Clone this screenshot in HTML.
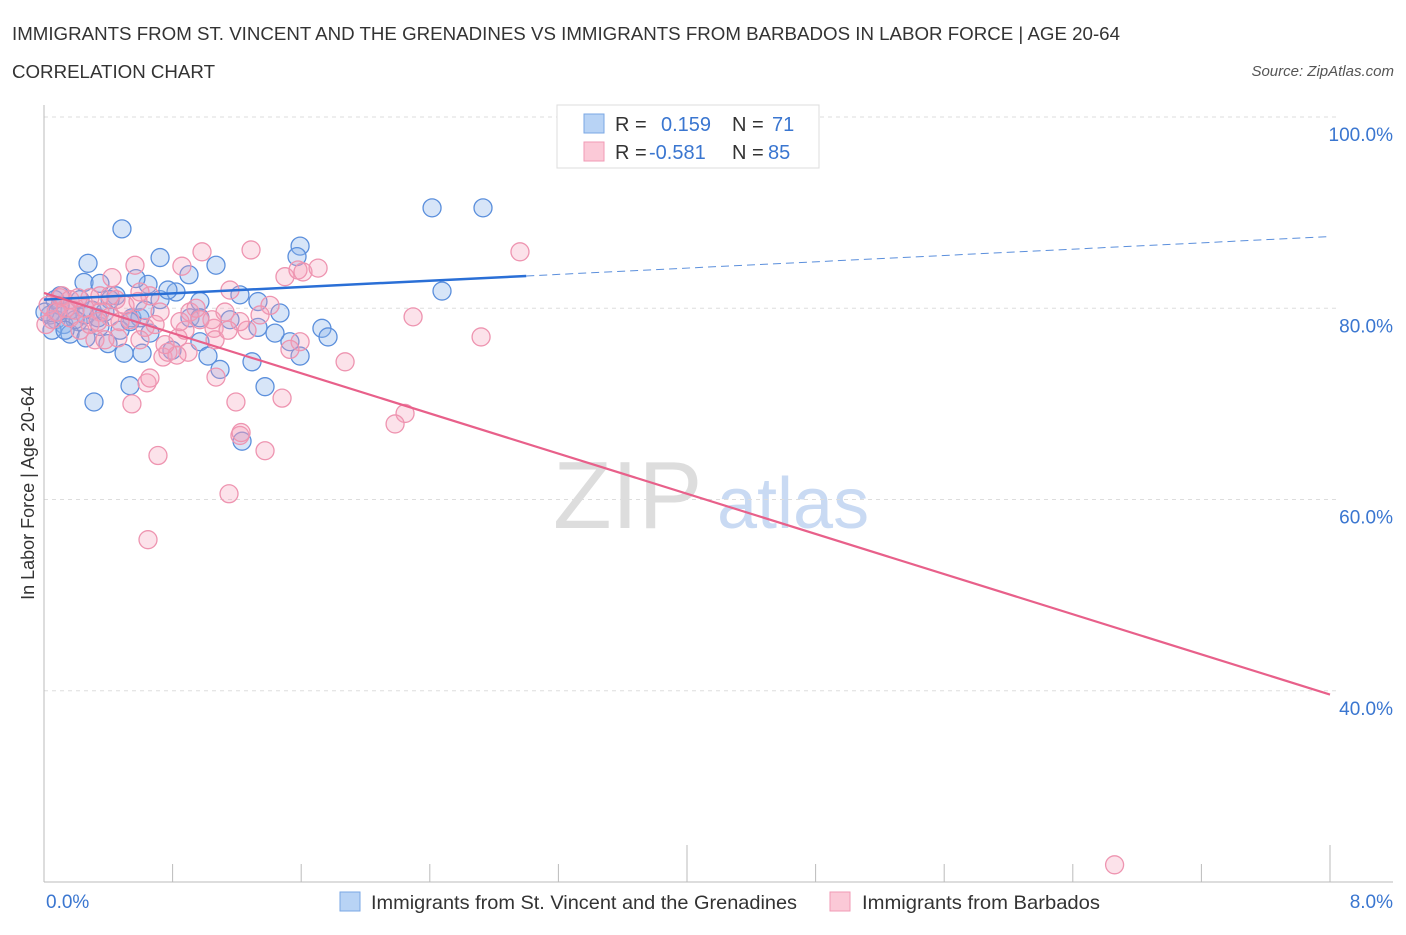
<!DOCTYPE html>
<html><head><meta charset="utf-8"><style>
body{margin:0;background:#fff;font-family:"Liberation Sans",sans-serif;}
svg text{font-family:"Liberation Sans",sans-serif;}
</style></head><body>
<svg id="chart" width="1406" height="930">
<text x="12" y="40" font-size="18.5" fill="#333" textLength="1108" lengthAdjust="spacingAndGlyphs">IMMIGRANTS FROM ST. VINCENT AND THE GRENADINES VS IMMIGRANTS FROM BARBADOS IN LABOR FORCE | AGE 20-64</text>
<text x="12" y="78" font-size="18.5" fill="#333" textLength="203" lengthAdjust="spacingAndGlyphs">CORRELATION CHART</text>
<text x="1394" y="76" font-size="15" fill="#555" font-style="italic" text-anchor="end">Source: ZipAtlas.com</text>
<g>
<text x="553" y="528" font-size="96" fill="#ddd" font-family="Liberation Serif,serif">ZIP</text>
<text x="717" y="528" font-size="72" fill="#c9daf3">atlas</text>
</g>
<g id="grid"></g>
<g id="axes"></g>
<g id="marks"></g>
<text transform="translate(34,493) rotate(-90)" font-size="18" fill="#333" text-anchor="middle">In Labor Force | Age 20-64</text>
<g>
<rect x="557" y="105" width="262" height="63" fill="#fff" stroke="#ddd"/>
<rect x="584" y="114" width="20" height="19" fill="#b8d3f5" stroke="#7aa7e4"/>
<rect x="584" y="142" width="20" height="19" fill="#fbc9d7" stroke="#f09ab4"/>
<text x="615" y="131" font-size="20" fill="#333">R =</text>
<text x="661" y="131" font-size="20" fill="#3a76d0">0.159</text>
<text x="732" y="131" font-size="20" fill="#333">N =</text>
<text x="772" y="131" font-size="20" fill="#3a76d0">71</text>
<text x="615" y="159" font-size="20" fill="#333">R =</text>
<text x="649" y="159" font-size="20" fill="#3a76d0">-0.581</text>
<text x="732" y="159" font-size="20" fill="#333">N =</text>
<text x="768" y="159" font-size="20" fill="#3a76d0">85</text>
</g>
<g>
<rect x="340" y="892" width="20" height="19" fill="#b8d3f5" stroke="#7aa7e4"/>
<text x="371" y="909" font-size="19.5" fill="#333" textLength="426" lengthAdjust="spacingAndGlyphs">Immigrants from St. Vincent and the Grenadines</text>
<rect x="830" y="892" width="20" height="19" fill="#fbc9d7" stroke="#f09ab4"/>
<text x="862" y="909" font-size="19.5" fill="#333" textLength="238" lengthAdjust="spacingAndGlyphs">Immigrants from Barbados</text>
</g>
</svg>
<script>
const blueX=[0.485,2.414,2.731,1.593,1.574,0.722,0.274,1.070,0.647,0.249,0.572,0.902,0.348,0.821,1.219,2.476,0.100,0.448,0.970,1.331,1.468,0.547,0.075,0.124,0.212,0.348,0.659,1.331,1.729,1.767,0.162,0.261,0.398,0.498,0.610,0.796,0.970,1.020,1.530,1.593,1.294,1.095,0.535,1.375,0.311,1.232,0.037,0.050,0.299,0.411,0.597,0.162,0.224,0.473,0.908,0.722,0.771,0.100,0.006,0.255,0.336,0.068,0.193,0.131,0.379,0.535,0.628,0.970,1.157,1.437,0.087];
const blueY=[88.3,90.5,90.5,86.5,85.4,85.3,84.7,84.5,82.5,82.7,83.1,83.5,82.6,81.7,81.4,81.8,81.3,81.3,80.7,80.7,79.5,79.0,78.8,78.3,78.6,78.1,77.4,78.0,77.9,77.0,77.3,76.9,76.3,75.3,75.3,75.6,76.5,75.0,76.5,75.0,74.4,73.6,71.9,71.8,70.2,66.1,79.3,77.7,79.8,80.9,79.0,79.8,80.9,77.7,79.0,80.9,81.9,80.3,79.6,79.3,79.0,80.9,78.8,77.7,79.6,78.6,79.8,79.0,78.8,77.4,79.6];
const pinkX=[2.961,1.288,0.983,2.296,2.719,1.873,2.246,2.184,6.66,0.647,1.151,0.709,1.375,1.219,1.226,1.194,1.481,0.547,0.641,0.659,0.740,0.771,0.896,0.827,1.070,1.593,1.058,1.263,1.219,1.406,1.499,1.580,1.611,1.705,1.157,0.858,0.566,0.423,0.348,0.448,0.659,0.597,0.908,0.946,1.045,0.834,0.317,0.460,0.162,0.100,0.025,0.050,0.224,0.286,0.535,0.473,0.628,0.722,0.193,0.255,0.075,0.137,0.348,0.411,0.691,0.970,1.344,0.504,0.286,0.379,0.112,0.597,0.753,0.877,1.064,1.145,0.012,0.585,0.336,0.162,0.212,0.411,0.846,1.126,1.530];
const pinkY=[85.9,86.1,85.9,79.1,77.0,74.4,69.0,67.9,21.8,55.8,60.6,64.6,65.1,66.7,67.0,70.2,70.6,70.0,72.2,72.7,74.9,75.4,75.4,75.1,72.8,76.5,77.9,77.7,78.6,80.3,83.3,84.0,83.8,84.2,81.9,84.4,84.5,83.2,81.3,80.9,81.3,81.7,79.6,80.0,78.8,76.9,76.7,76.9,79.0,81.1,80.3,78.8,77.7,81.1,78.8,78.6,78.0,79.6,79.8,80.0,79.6,80.0,79.6,79.1,78.3,78.8,79.3,80.3,78.3,76.7,81.3,76.7,76.2,77.7,76.7,77.7,78.3,80.7,78.6,80.9,81.1,81.3,78.6,79.6,75.7];
const blueTrend=[80.9,87.5];
const blueSolidEnd=3.0;
const pinkTrend=[81.6,39.6];
const yTicks=[100,80,60,40];
const yTickLabels=["100.0%","80.0%","60.0%","40.0%"];
const xLabels=["0.0%","8.0%"];

const X0=44,X1=1330,Y0=882,Y1=117;
const xs=v=>X0+(v/8)*(X1-X0);
const ys=v=>Y0-(v-20)/80*(Y0-Y1);
const NS="http://www.w3.org/2000/svg";
function mk(tag,attrs,parent){const e=document.createElementNS(NS,tag);for(const k in attrs)e.setAttribute(k,attrs[k]);parent.appendChild(e);return e;}
const grid=document.getElementById('grid'),axes=document.getElementById('axes'),marks=document.getElementById('marks');
yTicks.forEach((t,i)=>{
  const l=mk('line',{x1:X0,x2:1340,y1:ys(t),y2:ys(t),stroke:'#ddd','stroke-dasharray':'4,4'},grid);
  
  
  const tx=mk('text',{x:1393,y:ys(t)+24,'font-size':19,fill:'#3a76d0','text-anchor':'end'},axes);
  tx.textContent=yTickLabels[i];
  
  
});
let la=mk('line',{x1:X0,x2:X0,y1:105,y2:Y0,stroke:'#bbb'},axes);


let lb=mk('line',{x1:X0,x2:1393,y1:Y0,y2:Y0,stroke:'#bbb'},axes);


for(let i=1;i<=10;i++){
  const x=X0+i*(X1-X0)/10;
  const tall=(i==5||i==10);
  const t=mk('line',{x1:x,x2:x,y1:tall?845:864,y2:Y0,stroke:'#bbb'},axes);
  
  
}
let x0l=mk('text',{x:46,y:908,'font-size':19,fill:'#3a76d0'},axes);x0l.textContent=xLabels[0];


let x1l=mk('text',{x:1393,y:908,'font-size':19,fill:'#3a76d0','text-anchor':'end'},axes);x1l.textContent=xLabels[1];



blueX.forEach((v,i)=>{
  const c=mk('circle',{cx:xs(v),cy:ys(blueY[i]),r:9,fill:'rgba(140,180,235,0.35)',stroke:'#5b8fdc','stroke-width':1.3},marks);
  
  
});
pinkX.forEach((v,i)=>{
  const c=mk('circle',{cx:xs(v),cy:ys(pinkY[i]),r:9,fill:'rgba(245,160,185,0.3)',stroke:'#ee94b0','stroke-width':1.3},marks);
  
  
});
const bAt=x=>blueTrend[0]+(blueTrend[1]-blueTrend[0])*x/8;
let b1=mk('line',{x1:xs(0),y1:ys(bAt(0)),x2:xs(blueSolidEnd),y2:ys(bAt(blueSolidEnd)),stroke:'#2a6fd6','stroke-width':2.5},marks);


let b2=mk('line',{x1:xs(blueSolidEnd),y1:ys(bAt(blueSolidEnd)),x2:xs(8),y2:ys(bAt(8)),stroke:'#5b8fdc','stroke-width':1,'stroke-dasharray':'8,5'},marks);


let p1=mk('line',{x1:xs(0),y1:ys(pinkTrend[0]),x2:xs(8),y2:ys(pinkTrend[1]),stroke:'#e8608a','stroke-width':2.2},marks);


</script>
</body></html>
